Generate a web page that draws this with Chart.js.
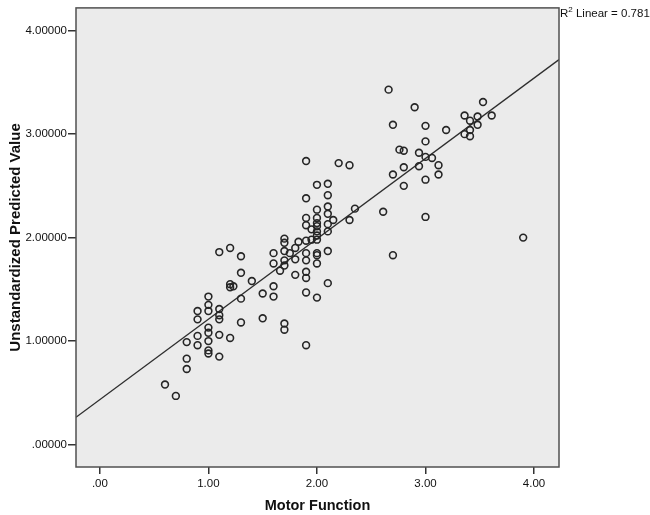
<!doctype html>
<html>
<head>
    <title>Motor Function Scatter</title>
    <script src="https://cdn.jsdelivr.net/npm/chart.js@4/dist/chart.umd.min.js"></script>
    <style>
        body { margin: 0; background: #fff; }
        #wrap { width: 650px; height: 515px; }
    </style>
</head>
<body>
<div id="wrap"><canvas id="chart-area" width="650" height="515"></canvas></div>
<script>
    // observed points (Motor Function, Unstandardized Predicted Value)
    var motorX = [
        0.60, 0.70, 0.80, 0.80, 0.80, 0.90, 0.90, 0.90, 0.90,
        1.00, 1.00, 1.00, 1.00, 1.00, 1.00, 1.00, 1.00,
        1.10, 1.10, 1.10, 1.10, 1.10, 1.10,
        1.20, 1.20, 1.20, 1.23, 1.20,
        1.30, 1.30, 1.30, 1.30, 1.40, 1.50, 1.50,
        1.60, 1.60, 1.60, 1.60, 1.66,
        1.70, 1.70, 1.70, 1.70, 1.70, 1.70, 1.70, 1.75,
        1.80, 1.80, 1.80, 1.83,
        1.90, 1.90, 1.90, 1.90, 1.90, 1.90, 1.90, 1.90, 1.90, 1.90, 1.90,
        1.95, 1.95,
        2.00, 2.00, 2.00, 2.00, 2.00, 2.00, 2.00, 2.00, 2.00, 2.00, 2.00, 2.00,
        2.10, 2.10, 2.10, 2.10, 2.10, 2.10, 2.10, 2.10, 2.15,
        2.20, 2.30, 2.30, 2.35, 2.61, 2.66, 2.70, 2.70, 2.70,
        2.76, 2.80, 2.80, 2.80, 2.90, 2.94, 2.94,
        3.00, 3.00, 3.00, 3.00, 3.00, 3.06, 3.12, 3.12, 3.19,
        3.36, 3.36, 3.41, 3.41, 3.41, 3.48, 3.48, 3.53, 3.61, 3.90
    ];
    var predictedY = [
        0.58, 0.47, 0.83, 0.73, 0.99, 1.29, 1.21, 1.05, 0.96,
        1.43, 1.35, 1.29, 1.13, 1.08, 1.00, 0.91, 0.88,
        1.86, 1.31, 1.25, 1.21, 1.06, 0.85,
        1.90, 1.55, 1.52, 1.53, 1.03,
        1.82, 1.66, 1.41, 1.18, 1.58, 1.46, 1.22,
        1.85, 1.75, 1.53, 1.43, 1.68,
        1.99, 1.95, 1.87, 1.78, 1.73, 1.17, 1.11, 1.85,
        1.90, 1.79, 1.64, 1.96,
        2.74, 2.38, 2.19, 2.12, 1.97, 1.85, 1.78, 1.67, 1.61, 1.47, 0.96,
        2.08, 1.98,
        2.51, 2.27, 2.19, 2.14, 2.11, 2.06, 2.02, 1.98, 1.85, 1.83, 1.75, 1.42,
        2.52, 2.41, 2.30, 2.23, 2.13, 2.06, 1.87, 1.56, 2.17,
        2.72, 2.70, 2.17, 2.28, 2.25, 3.43, 3.09, 2.61, 1.83,
        2.85, 2.84, 2.68, 2.50, 3.26, 2.82, 2.69,
        3.08, 2.93, 2.78, 2.56, 2.20, 2.77, 2.70, 2.61, 3.04,
        3.18, 3.00, 3.13, 3.04, 2.98, 3.17, 3.09, 3.31, 3.18, 2.00
    ];

    // fit line end points, read at the plot edges
    var fitX = [-0.22, 4.23];
    var fitY = [0.264, 3.72];

    var xTicks = [0, 1, 2, 3, 4];
    var yTicks = [0, 1, 2, 3, 4];

    var points = motorX.map(function(x, i) { return {x: x, y: predictedY[i]}; });
    var fitLine = fitX.map(function(x, i) { return {x: x, y: fitY[i]}; });

    var frame = {
        id: 'frame',
        beforeDraw: function(chart) {
            var a = chart.chartArea, ctx = chart.ctx;
            ctx.save();
            ctx.fillStyle = '#ffffff';
            ctx.fillRect(0, 0, chart.width, chart.height);
            ctx.fillStyle = '#ebebeb';
            ctx.fillRect(a.left, a.top, a.right - a.left, a.bottom - a.top);
            ctx.restore();
        },
        afterDraw: function(chart) {
            var a = chart.chartArea, ctx = chart.ctx;
            ctx.save();
            ctx.strokeStyle = '#505050';
            ctx.lineWidth = 1.5;
            ctx.strokeRect(a.left, a.top, a.right - a.left, a.bottom - a.top);

            // R2 label
            ctx.fillStyle = '#111';
            ctx.textBaseline = 'alphabetic';
            ctx.font = '11.5px "Liberation Sans", Arial, sans-serif';
            var x = a.right + 1, y = 17;
            ctx.fillText('R', x, y);
            x += ctx.measureText('R').width;
            ctx.font = '8px "Liberation Sans", Arial, sans-serif';
            ctx.fillText('2', x, y - 5);
            x += ctx.measureText('2').width;
            ctx.font = '11.5px "Liberation Sans", Arial, sans-serif';
            ctx.fillText(' Linear = 0.781', x, y);
            ctx.restore();
        }
    };

    var tickFont = {family: '"Liberation Sans", Arial, sans-serif', size: 11.5};
    var titleFont = {family: '"Liberation Sans", Arial, sans-serif', size: 14.5, weight: 'bold'};

    var config = {
        type: 'scatter',
        data: {
            datasets: [{
                label: 'Observed',
                data: points,
                pointRadius: 3.4,
                pointHoverRadius: 3.4,
                borderWidth: 1.6,
                borderColor: '#262626',
                backgroundColor: 'rgba(0,0,0,0)'
            }, {
                type: 'line',
                label: 'Linear fit',
                data: fitLine,
                borderColor: '#2e2e2e',
                borderWidth: 1.3,
                pointRadius: 0,
                fill: false
            }]
        },
        options: {
            responsive: false,
            animation: false,
            layout: {padding: {left: 0, right: 91, top: 3, bottom: 0}},
            plugins: {legend: {display: false}, tooltip: {enabled: false}},
            scales: {
                x: {
                    type: 'linear',
                    min: -0.22,
                    max: 4.23,
                    afterBuildTicks: function(scale) {
                        scale.ticks = xTicks.map(function(v) { return {value: v}; });
                    },
                    afterFit: function(scale) { scale.height = 48; },
                    grid: {drawOnChartArea: false, drawTicks: true, tickLength: 7, color: '#333', lineWidth: 1.5},
                    border: {display: false},
                    ticks: {
                        color: '#111',
                        font: tickFont,
                        padding: 3,
                        maxRotation: 0,
                        callback: function(v) { return v === 0 ? '.00' : v.toFixed(2); }
                    },
                    title: {display: true, text: 'Motor Function', color: '#111', font: titleFont, padding: {top: 4, bottom: 0}}
                },
                y: {
                    type: 'linear',
                    min: -0.217,
                    max: 4.22,
                    afterBuildTicks: function(scale) {
                        scale.ticks = yTicks.map(function(v) { return {value: v}; });
                    },
                    afterFit: function(scale) { scale.width = 76; },
                    grid: {drawOnChartArea: false, drawTicks: true, tickLength: 8, color: '#333', lineWidth: 1.5},
                    border: {display: false},
                    ticks: {
                        color: '#111',
                        font: tickFont,
                        padding: 1,
                        callback: function(v) { return v === 0 ? '.00000' : v.toFixed(5); }
                    },
                    title: {display: true, text: 'Unstandardized Predicted Value', color: '#111',
                        font: {family: '"Liberation Sans", Arial, sans-serif', size: 15, weight: 'bold'},
                        padding: {top: 7, bottom: 4}}
                }
            }
        },
        plugins: [frame]
    };

    window.onload = function() {
        var ctx = document.getElementById('chart-area').getContext('2d');
        window.myScatter = new Chart(ctx, config);
    };
</script>
</body>
</html>
